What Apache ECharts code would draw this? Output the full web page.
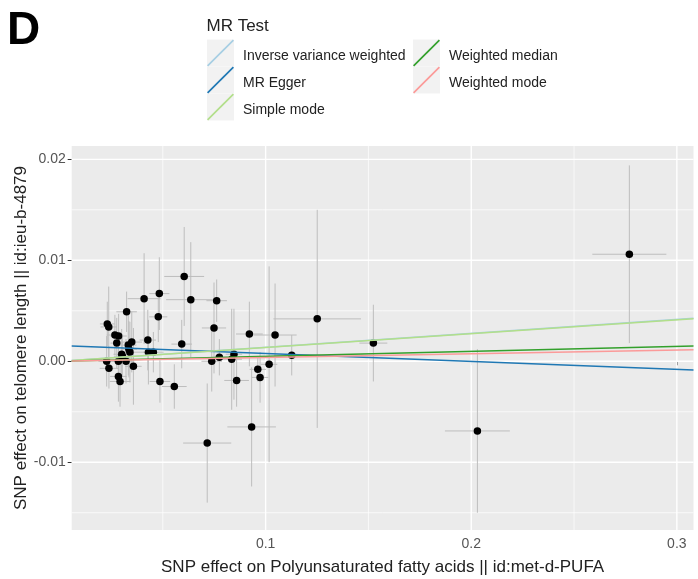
<!DOCTYPE html>
<html>
<head>
<meta charset="utf-8">
<script src="https://cdn.jsdelivr.net/npm/echarts@6.0.0/dist/echarts.min.js"></script>
<style>
  html, body { margin: 0; padding: 0; background: #fff; }
  #chart { width: 698px; height: 579px; }
</style>
</head>
<body>
<div id="chart"></div>
<script>
// SNP 效应（暴露 x / 结局 y）及标准误
var snpX = [0.0230, 0.0237, 0.0267, 0.0285, 0.0276, 0.0324, 0.0349, 0.0332, 0.0300, 0.0340,
            0.0335, 0.0303, 0.0227, 0.0284, 0.0321, 0.0357, 0.0238, 0.0284, 0.0292, 0.0409,
            0.0427, 0.0430, 0.0454, 0.0478, 0.0483, 0.0486, 0.0556, 0.0592, 0.0604, 0.0636,
            0.0738, 0.0749, 0.0762, 0.0775, 0.0716, 0.0835, 0.0846, 0.0859, 0.0921, 0.0932,
            0.0962, 0.0973, 0.1017, 0.1046, 0.1127, 0.1251, 0.1524, 0.2030, 0.2769];
var snpY = [0.0037, 0.0034, 0.0026, 0.0025, 0.0018, 0.0049, 0.0019, 0.0016, 0.0007, 0.0009,
            0.0012, 0.0005, 0.0000, 0.0000, 0.0000, -0.0005, -0.0007, -0.0015, -0.0020, 0.0062,
            0.0021, 0.0009, 0.0009, 0.0044, 0.0067, -0.0020, -0.0025, 0.0017, 0.0084, 0.0061,
            0.0000, 0.0033, 0.0060, 0.0004, -0.0081, 0.0002, 0.0007, -0.0019, 0.0027, -0.0065,
            -0.0008, -0.0016, -0.0003, 0.0026, 0.0006, 0.0042, 0.0018, -0.0069, 0.0106];
var seX = [0.0036, 0.0040, 0.0040, 0.0040, 0.0030, 0.0050, 0.0050, 0.0040, 0.0040, 0.0050,
           0.0040, 0.0040, 0.0040, 0.0040, 0.0040, 0.0040, 0.0045, 0.0040, 0.0050, 0.0080,
           0.0040, 0.0040, 0.0050, 0.0044, 0.0049, 0.0050, 0.0060, 0.0050, 0.0097, 0.0120,
           0.0050, 0.0059, 0.0050, 0.0040, 0.0117, 0.0050, 0.0040, 0.0060, 0.0065, 0.0118,
           0.0040, 0.0040, 0.0040, 0.0105, 0.0086, 0.0213, 0.0068, 0.0158, 0.0180];
var seY = [0.0022, 0.0040, 0.0020, 0.0022, 0.0025, 0.0020, 0.0030, 0.0030, 0.0025, 0.0030,
           0.0028, 0.0020, 0.0025, 0.0022, 0.0022, 0.0038, 0.0020, 0.0025, 0.0025, 0.0045,
           0.0030, 0.0032, 0.0020, 0.0025, 0.0036, 0.0021, 0.0022, 0.0024, 0.0049, 0.0057,
           0.0030, 0.0045, 0.0021, 0.0018, 0.0059, 0.0050, 0.0045, 0.0026, 0.0032, 0.0059,
           0.0012, 0.0025, 0.0097, 0.0051, 0.0020, 0.0108, 0.0038, 0.0081, 0.0088];

// MR 方法回归线（截距 / 斜率）
var methods = ['Inverse variance weighted', 'MR Egger', 'Simple mode', 'Weighted median', 'Weighted mode'];
var intercepts = [0, 0.00155, 0, 0, 0];
var slopes = [0.0138, -0.00787, 0.0137, 0.0049, 0.0037];

// 刻度
var xMajor = [0.1, 0.2, 0.3];
var xMinor = [0.05, 0.15, 0.25];
var yMajor = [-0.01, 0, 0.01, 0.02];
var yMinor = [-0.015, -0.005, 0.005, 0.015];

var xMin = 0.00569, xMax = 0.3081;
var yMin = -0.01671, yMax = 0.02132;

var methodColors = ['#A6CEE3', '#1F78B4', '#B2DF8A', '#33A02C', '#FB9A99'];
var font = 'Liberation Sans, Arial, sans-serif';
var diagIcon = 'path://M0,25.8 L1.2,27 L27,1.2 L25.8,0 Z';

var chart = echarts.init(document.getElementById('chart'));

// 网格线（白色）
function gridSeries(vals, dim, width) {
    return {
        type: 'custom',
        silent: true,
        z: 1,
        data: vals.map(function(v) { return dim === 'x' ? [v, 0] : [xMin, v]; }),
        renderItem: function(params, api) {
            var cs = params.coordSys;
            var p = api.coord([api.value(0), api.value(1)]);
            var shape = dim === 'x'
                ? { x1: p[0], y1: cs.y, x2: p[0], y2: cs.y + cs.height }
                : { x1: cs.x, y1: p[1], x2: cs.x + cs.width, y2: p[1] };
            return { type: 'line', shape: shape, style: { stroke: '#fff', lineWidth: width } };
        }
    };
}

var series = [
    gridSeries(xMinor, 'x', 0.7),
    gridSeries(yMinor, 'y', 0.7),
    gridSeries(xMajor, 'x', 1.4),
    gridSeries(yMajor, 'y', 1.4),
    {
        // 误差线
        type: 'custom',
        silent: true,
        z: 2,
        clip: true,
        data: snpX.map(function(x, i) { return [x, snpY[i], seX[i], seY[i]]; }),
        renderItem: function(params, api) {
            var x = api.value(0), y = api.value(1), ex = api.value(2), ey = api.value(3);
            var v0 = api.coord([x, y - ey]), v1 = api.coord([x, y + ey]);
            var h0 = api.coord([x - ex, y]), h1 = api.coord([x + ex, y]);
            var st = { stroke: '#BDBDBD', lineWidth: 1 };
            return {
                type: 'group',
                children: [
                    { type: 'line', shape: { x1: v0[0], y1: v0[1], x2: v1[0], y2: v1[1] }, style: st },
                    { type: 'line', shape: { x1: h0[0], y1: h0[1], x2: h1[0], y2: h1[1] }, style: st }
                ]
            };
        }
    },
    {
        type: 'scatter',
        silent: true,
        z: 3,
        symbolSize: 7.5,
        itemStyle: { color: '#000', opacity: 1 },
        data: snpX.map(function(x, i) { return [x, snpY[i]]; })
    }
];

methods.forEach(function(m, i) {
    series.push({
        name: m,
        type: 'line',
        silent: true,
        z: 4,
        symbol: 'none',
        color: methodColors[i],
        lineStyle: { color: methodColors[i], width: 1.5 },
        data: [[xMin, intercepts[i] + slopes[i] * xMin], [xMax, intercepts[i] + slopes[i] * xMax]]
    });
});

var legendCommon = {
    orient: 'vertical',
    top: 39.5,
    padding: 0,
    itemWidth: 27,
    itemHeight: 27,
    itemGap: 0,
    icon: diagIcon,
    selectedMode: false,
    formatter: function(name) { return '{t|' + name + '}'; },
    textStyle: {
        rich: { t: { fontFamily: font, fontSize: 14, color: '#222', padding: [6, 0, 0, 4] } }
    }
};

var option = {
    animation: false,
    backgroundColor: '#fff',
    title: [
        { text: 'D', left: 7, top: 8, padding: 0, textStyle: { fontFamily: font, fontSize: 46, fontWeight: 'bold', color: '#000' } },
        { text: 'MR Test', left: 206.5, top: 18, padding: 0, textStyle: { fontFamily: font, fontSize: 17, fontWeight: 'normal', color: '#222' } }
    ],
    legend: [
        Object.assign({ left: 207, data: methods.slice(0, 3) }, legendCommon),
        Object.assign({ left: 413, data: methods.slice(3) }, legendCommon)
    ],
    graphic: [0, 1, 2].map(function(k) {
        return { type: 'rect', left: 207, top: 39.5 + k * 27, z: -1, shape: { width: 27, height: 27 }, style: { fill: '#F2F2F2' } };
    }).concat([0, 1].map(function(k) {
        return { type: 'rect', left: 413, top: 39.5 + k * 27, z: -1, shape: { width: 27, height: 27 }, style: { fill: '#F2F2F2' } };
    })),
    grid: {
        left: 71.7,
        right: 4.5,
        top: 146,
        bottom: 49,
        outerBoundsMode: 'none',
        containLabel: false,
        show: true,
        backgroundColor: '#EBEBEB',
        borderWidth: 0
    },
    xAxis: {
        type: 'value',
        min: xMin,
        max: xMax,
        name: 'SNP effect on Polyunsaturated fatty acids || id:met-d-PUFA',
        nameLocation: 'middle',
        nameGap: 29,
        nameMoveOverlap: false,
        nameTextStyle: { fontFamily: font, fontSize: 17, color: '#222' },
        axisLine: { show: false },
        splitLine: { show: false },
        axisTick: { show: true, customValues: xMajor, length: 4, lineStyle: { color: '#333' } },
        axisLabel: {
            customValues: xMajor,
            margin: 7,
            fontFamily: font, fontSize: 14, color: '#555',
            formatter: function(v) { return v.toFixed(1); }
        }
    },
    yAxis: {
        type: 'value',
        min: yMin,
        max: yMax,
        name: 'SNP effect on telomere length || id:ieu-b-4879',
        nameLocation: 'middle',
        nameGap: 42,
        nameMoveOverlap: false,
        nameTextStyle: { fontFamily: font, fontSize: 17, color: '#222' },
        axisLine: { show: false },
        splitLine: { show: false },
        axisTick: { show: true, customValues: yMajor, length: 4, lineStyle: { color: '#333' } },
        axisLabel: {
            customValues: yMajor,
            margin: 6,
            fontFamily: font, fontSize: 14, color: '#555',
            formatter: function(v) { return v.toFixed(2); }
        }
    },
    series: series
};

chart.setOption(option);
</script>
</body>
</html>
